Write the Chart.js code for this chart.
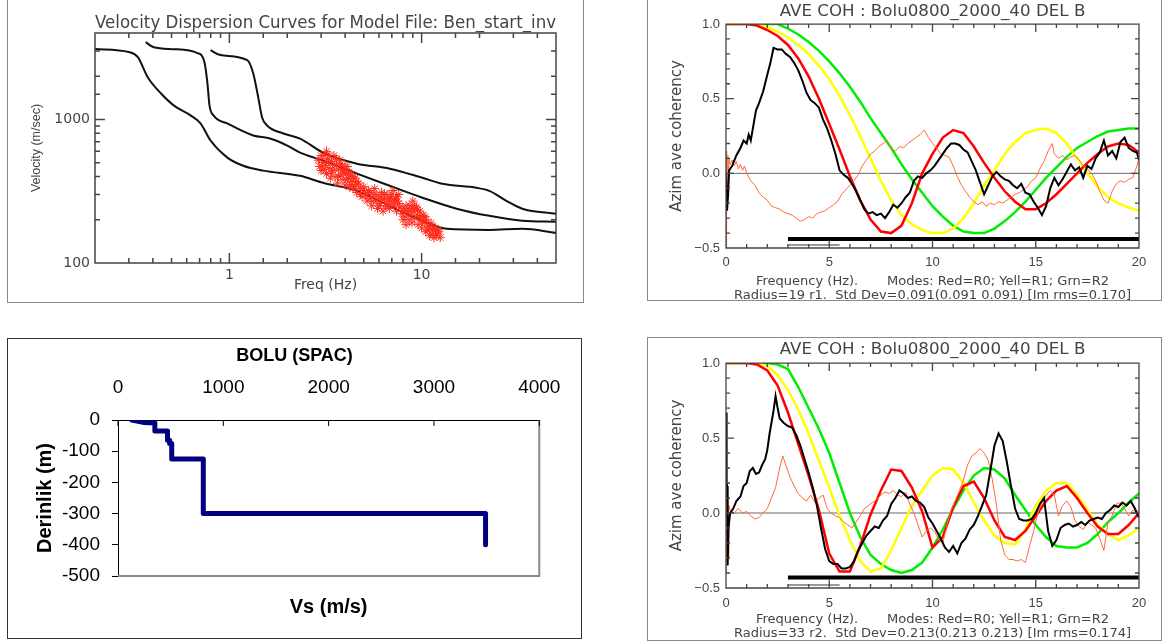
<!DOCTYPE html>
<html>
<head>
<meta charset="utf-8">
<script src="https://cdn.jsdelivr.net/npm/chart.js@4.4.0/dist/chart.umd.min.js"></script>
<style>
  body { margin: 0; background: #fff; }
  .panel { position: absolute; border: 1px solid #8a8a8a; background: #fff; }
  canvas { display: block; }
</style>
</head>
<body>
<div class="panel" style="left:7px; top:-1px; width:575px; height:302px;"><canvas id="dispChart" width="575" height="302"></canvas></div>
<div class="panel" style="left:647px; top:-1px; width:513px; height:300px;"><canvas id="cohR1" width="513" height="300"></canvas></div>
<div class="panel" style="left:7px; top:338px; width:573px; height:299px; border-color:#333;"><canvas id="profileChart" width="573" height="299"></canvas></div>
<div class="panel" style="left:647px; top:337px; width:513px; height:302px;"><canvas id="cohR2" width="513" height="302"></canvas></div>
<script>
// ---- dispersion curves (top left) ----
const mode0Freq = [0.2, 0.3, 0.334, 0.376, 0.44, 0.513, 0.628, 0.708, 0.798, 0.976, 1.18, 1.5, 2.33, 3.07, 4.61, 7.68, 10.1, 13.5, 22.5, 33.4, 50];
const mode0Vel  = [3090, 2945, 2716, 1968, 1521, 1253, 1067, 938, 713, 542, 476, 440, 405, 362, 318, 231, 197, 173, 170, 173, 162];
const mode1Freq = [0.367, 0.404, 0.513, 0.683, 0.742, 0.769, 0.788, 0.827, 0.976, 1.33, 1.63, 2.0, 2.33, 3.07, 4.61, 6.83, 10.1, 15.2, 22.5, 33.4, 50];
const mode1Vel  = [3451, 3184, 3087, 2897, 2505, 1786, 1253, 1067, 938, 773, 736, 658, 587, 517, 419, 345, 285, 239, 213, 197, 194];
const mode2Freq = [0.798, 0.898, 1.24, 1.33, 1.40, 1.48, 1.57, 1.91, 2.33, 3.07, 4.61, 6.83, 10.1, 12.8, 19.3, 22.5, 27.6, 33.4, 50];
const mode2Vel  = [3040, 2806, 2588, 2099, 1521, 1033, 908, 798, 736, 587, 492, 454, 392, 356, 334, 318, 271, 239, 220];

// picked phase velocities (red stars)
const obsFreq = [2.9, 2.95, 3.0, 3.05, 3.1, 3.15, 3.2, 3.2, 3.25, 3.3, 3.35, 3.4, 3.45, 3.5, 3.55, 3.6, 3.65, 3.7, 3.75, 3.8,
  3.85, 3.9, 3.95, 4.0, 4.05, 4.1, 4.15, 4.2, 4.3, 4.35, 4.4, 4.5, 4.55, 4.6,
  4.7, 4.8, 4.9, 5.0, 5.1, 5.2, 5.3, 5.4, 5.5, 5.6, 5.7, 5.8, 5.9, 6.0, 6.1, 6.2, 6.3, 6.4, 6.5, 6.6, 6.7, 6.8, 6.9, 7.0, 7.1, 7.2, 7.3, 7.4, 7.5, 7.6, 7.7,
  7.9, 8.0, 8.1, 8.2, 8.3, 8.4, 8.6, 8.7, 8.8, 8.9, 9.0, 9.1, 9.2, 9.4, 9.5, 9.6, 9.8, 9.9, 10.0, 10.2, 10.3, 10.5, 10.6, 10.8, 11.0, 11.2, 11.4, 11.6, 11.8, 12.0, 12.3, 12.5,
  3.0, 3.1, 3.2, 3.3, 3.4, 3.5, 3.6, 3.7, 3.8, 3.9, 4.0, 4.1, 4.2, 4.3, 4.4, 4.5, 4.6,
  4.8, 5.0, 5.2, 5.4, 5.6, 5.8, 6.0, 6.2, 6.4, 6.6, 6.8, 7.0, 7.2, 7.4, 7.6,
  8.0, 8.3, 8.6, 8.9, 9.2, 9.5, 9.8, 10.1, 10.4, 10.7, 11.0, 11.3, 11.6, 11.9, 12.2];
const obsVel = [520, 470, 440, 500, 560, 480, 600, 420, 530, 460, 390, 510, 440, 560, 400, 480, 360, 450, 520, 410,
  470, 380, 440, 350, 420, 470, 390, 340, 410, 370, 330, 390, 350, 310,
  360, 330, 290, 340, 300, 270, 320, 280, 250, 300, 330, 270, 240, 290, 260, 310, 230, 280, 250, 300, 270, 240, 290, 260, 320, 250, 280, 230, 270, 300, 245,
  220, 200, 240, 210, 185, 230, 200, 250, 215, 190, 270, 230, 205, 245, 215, 185, 230, 200, 175, 215, 190, 165, 200, 180, 155, 190, 170, 150, 175, 160, 165, 150,
  560, 450, 500, 560, 430, 480, 530, 400, 490, 430, 470, 380, 430, 350, 400, 340, 370,
  300, 320, 300, 310, 270, 300, 250, 280, 300, 250, 280, 300, 270, 290, 260,
  230, 250, 230, 240, 250, 235, 210, 195, 210, 170, 180, 160, 175, 155, 170];

// ---- Vs profile (bottom left) ----
const vsProfile    = [130, 250, 250, 350, 350, 470, 470, 490, 490, 510, 510, 810, 810, 3490, 3490];
const depthProfile = [0, -8, -8, -10, -35, -35, -65, -65, -75, -75, -125, -125, -300, -300, -400];

// ---- coherency curves (right) ----
const modelFreq = [0, 0.5, 1, 1.5, 2, 2.5, 3, 3.5, 4, 4.5, 5, 5.5, 6, 6.5, 7, 7.5, 8, 8.5, 9, 9.5, 10,
  10.5, 11, 11.5, 12, 12.5, 13, 13.5, 14, 14.5, 15, 15.5, 16, 16.5, 17, 17.5, 18, 18.5, 19, 19.5, 20];
const r1Red    = [1, 1, 1, 0.99, 0.96, 0.92, 0.86, 0.77, 0.65, 0.5, 0.33, 0.16, -0.02, -0.18, -0.31, -0.39, -0.4, -0.35, -0.2, 0.0, 0.13,
  0.24, 0.29, 0.27, 0.18, 0.07, -0.03, -0.12, -0.19, -0.24, -0.24, -0.2, -0.14, -0.07, 0.0, 0.07, 0.13, 0.18, 0.2, 0.19, 0.14];
const r1Yellow = [1, 1, 1, 1, 0.98, 0.95, 0.91, 0.86, 0.8, 0.72, 0.63, 0.52, 0.39, 0.25, 0.1, -0.05, -0.18, -0.28, -0.34, -0.38, -0.4,
  -0.4, -0.37, -0.3, -0.2, -0.08, 0.02, 0.13, 0.21, 0.27, 0.29, 0.3, 0.27, 0.2, 0.1, 0.0, -0.09, -0.16, -0.2, -0.23, -0.25];
const r1Green  = [1, 1, 1, 1, 1, 1, 0.97, 0.93, 0.88, 0.82, 0.75, 0.67, 0.58, 0.48, 0.37, 0.27, 0.17, 0.06, -0.04, -0.13, -0.22,
  -0.29, -0.35, -0.39, -0.4, -0.4, -0.37, -0.32, -0.26, -0.19, -0.11, -0.03, 0.04, 0.11, 0.17, 0.21, 0.25, 0.28, 0.29, 0.3, 0.3];
const r2Red    = [1, 1, 1, 0.99, 0.95, 0.85, 0.67, 0.46, 0.25, 0.02, -0.27, -0.39, -0.39, -0.22, -0.01, 0.15, 0.29, 0.28, 0.17, 0.01, -0.23,
  -0.16, 0.04, 0.18, 0.21, 0.1, -0.05, -0.16, -0.18, -0.12, -0.02, 0.08, 0.15, 0.18, 0.1, 0.0, -0.09, -0.14, -0.14, -0.08, 0.0];
const r2Yellow = [1, 1, 1, 1, 0.98, 0.92, 0.82, 0.69, 0.53, 0.35, 0.17, -0.02, -0.18, -0.32, -0.39, -0.37, -0.25, -0.1, 0.05, 0.15, 0.25,
  0.3, 0.29, 0.2, 0.07, -0.05, -0.15, -0.2, -0.21, -0.11, 0.05, 0.15, 0.2, 0.2, 0.12, 0.02, -0.08, -0.14, -0.18, -0.15, -0.1];
const r2Green  = [1, 1, 1, 1, 1, 0.99, 0.96, 0.84, 0.7, 0.56, 0.4, 0.2, 0.0, -0.16, -0.28, -0.34, -0.38, -0.4, -0.38, -0.33, -0.23,
  -0.11, 0.03, 0.15, 0.25, 0.3, 0.29, 0.23, 0.12, 0.02, -0.08, -0.16, -0.22, -0.23, -0.23, -0.2, -0.14, -0.06, 0.0, 0.07, 0.13];

const r1ObsFreq = [0, 0.05, 0.1, 0.15, 0.3, 0.5, 0.7, 0.85, 1.0, 1.1, 1.2, 1.3, 1.45, 1.6, 1.8, 2.0, 2.15, 2.3, 2.5, 2.7, 2.9,
  3.1, 3.3, 3.5, 3.7, 3.9, 4.1, 4.3, 4.5, 4.7, 4.9, 5.1, 5.3, 5.5, 5.7, 5.9, 6.1, 6.3, 6.5, 6.7, 6.9,
  7.1, 7.3, 7.5, 7.7, 7.9, 8.1, 8.3, 8.5, 8.7, 8.9, 9.1, 9.3, 9.5, 9.7, 9.9, 10.1, 10.3, 10.5, 10.7, 10.9,
  11.1, 11.3, 11.5, 11.7, 11.9, 12.1, 12.3, 12.5, 12.7, 12.9, 13.1, 13.3, 13.5, 13.7, 13.9, 14.1, 14.3, 14.5, 14.7, 14.9,
  15.1, 15.3, 15.5, 15.7, 15.9, 16.1, 16.3, 16.5, 16.7, 16.9, 17.1, 17.3, 17.5, 17.7, 17.9, 18.1, 18.3, 18.5, 18.7, 18.9,
  19.1, 19.3, 19.5, 19.7, 19.9, 20];
const r1ObsCoh = [0.0, -0.25, -0.15, 0.02, 0.05, 0.12, 0.17, 0.22, 0.2, 0.26, 0.22, 0.3, 0.42, 0.47, 0.55, 0.66, 0.74, 0.84, 0.83, 0.83, 0.8,
  0.78, 0.74, 0.69, 0.62, 0.54, 0.49, 0.47, 0.44, 0.36, 0.3, 0.22, 0.13, 0.02, -0.01, -0.03, -0.07, -0.12, -0.18, -0.24, -0.27,
  -0.26, -0.28, -0.27, -0.3, -0.26, -0.21, -0.23, -0.2, -0.16, -0.13, -0.05, -0.02, -0.03, 0.0, 0.02, 0.05, 0.09, 0.13, 0.17, 0.2,
  0.2, 0.19, 0.16, 0.14, 0.08, 0.02, -0.06, -0.14, -0.08, -0.02, 0.01, -0.02, -0.04, -0.05, -0.08, -0.1, -0.07, -0.13, -0.14, -0.19,
  -0.23, -0.28, -0.22, -0.1, -0.03, -0.08, -0.04, 0.01, 0.06, 0.02, 0.04, -0.03, 0.05, 0.03, 0.1, 0.14, 0.22, 0.12, 0.15, 0.1,
  0.21, 0.24, 0.17, 0.15, 0.14, 0.09];
const r1ImFreq = [0, 0.03, 0.06, 0.09, 0.12, 0.15, 0.2, 0.3, 0.4, 0.5, 0.6, 0.7, 0.8, 0.9, 1.0,
  1.2, 1.4, 1.6, 1.8, 2.0, 2.2, 2.4, 2.6, 2.8, 3.0, 3.2, 3.4, 3.6, 3.8, 4.0, 4.2, 4.4, 4.6, 4.8, 5.0,
  5.2, 5.4, 5.6, 5.8, 6.0, 6.2, 6.4, 6.6, 6.8, 7.0, 7.2, 7.4, 7.6, 7.8, 8.0, 8.2, 8.4, 8.6, 8.8, 9.0,
  9.2, 9.4, 9.6, 9.8, 10.0, 10.2, 10.4, 10.6, 10.8, 11.0, 11.2, 11.4, 11.6, 11.8, 12.0, 12.2, 12.4, 12.6, 12.8, 13.0,
  13.2, 13.4, 13.6, 13.8, 14.0, 14.2, 14.4, 14.6, 14.8, 15.0, 15.2, 15.4, 15.6, 15.8, 15.9,
  16.1, 16.3, 16.5, 16.7, 16.9, 17.1, 17.3, 17.5, 17.7, 17.9, 18.1, 18.3, 18.5, 18.7, 18.9, 19.1, 19.3, 19.5, 19.7, 19.9, 20];
const r1ImCoh = [-0.5, 0.15, -0.1, 0.12, -0.05, 0.1, 0.06, 0.09, 0.05, 0.08, 0.03, 0.06, 0.02, 0.05, 0.0,
  -0.05, -0.08, -0.13, -0.16, -0.18, -0.22, -0.23, -0.24, -0.26, -0.27, -0.28, -0.3, -0.32, -0.31, -0.29, -0.3, -0.27, -0.26, -0.25, -0.23,
  -0.21, -0.19, -0.14, -0.11, -0.08, -0.05, -0.01, 0.05, 0.09, 0.13, 0.15, 0.18, 0.2, 0.22, 0.16, 0.15, 0.18, 0.17, 0.2, 0.22,
  0.24, 0.26, 0.29, 0.24, 0.2, 0.17, 0.13, 0.12, 0.11, 0.05, -0.02, -0.08, -0.12, -0.16, -0.19, -0.21, -0.19, -0.22, -0.2, -0.21,
  -0.19, -0.2, -0.18, -0.16, -0.14, -0.13, -0.11, -0.09, -0.05, -0.03, 0.03, 0.08, 0.15, 0.2, 0.13,
  0.1, 0.12, 0.09, 0.11, 0.12, 0.09, 0.05, 0.03, 0.0, -0.05, -0.12, -0.18, -0.2, -0.12, -0.07, -0.05, -0.06, -0.04, -0.03, 0.05, 0.1];

const r2ObsFreq = [0, 0.03, 0.06, 0.08, 0.12, 0.2, 0.35, 0.5, 0.7, 0.85, 1.0, 1.15, 1.3, 1.45, 1.6, 1.75, 1.9, 2.0, 2.1, 2.2, 2.3, 2.4, 2.5, 2.6,
  2.8, 3.0, 3.2, 3.4, 3.6, 3.8, 4.0, 4.2, 4.4, 4.6, 4.8, 5.0, 5.2, 5.4, 5.6, 5.8, 6.0, 6.2, 6.4, 6.6,
  6.8, 7.0, 7.2, 7.4, 7.6, 7.8, 8.0, 8.2, 8.4, 8.6, 8.8, 9.0, 9.2, 9.4, 9.6, 9.8, 10.0, 10.2, 10.4, 10.6,
  10.8, 11.0, 11.2, 11.4, 11.6, 11.8, 12.0, 12.2, 12.4, 12.6, 12.8, 13.0, 13.2, 13.4, 13.6, 13.8, 14.0, 14.2, 14.4, 14.6,
  14.8, 15.0, 15.2, 15.4, 15.6, 15.8, 16.0, 16.2, 16.4, 16.6, 16.8, 17.0, 17.2, 17.4, 17.6, 17.8, 18.0, 18.2, 18.4, 18.6,
  18.8, 19.0, 19.2, 19.4, 19.6, 19.8, 20.0];
const r2ObsCoh = [0.67, 0.2, 0.18, -0.35, -0.1, 0.0, 0.03, 0.08, 0.11, 0.18, 0.2, 0.28, 0.3, 0.26, 0.27, 0.32, 0.36, 0.42, 0.52, 0.6, 0.68, 0.78, 0.7, 0.63,
  0.6, 0.58, 0.57, 0.52, 0.45, 0.36, 0.27, 0.17, 0.05, -0.1, -0.24, -0.32, -0.34, -0.34, -0.37, -0.37, -0.36, -0.32, -0.25, -0.2,
  -0.15, -0.12, -0.09, -0.1, -0.05, -0.02, 0.06, 0.1, 0.15, 0.13, 0.1, 0.11, 0.08, 0.07, 0.04, -0.03, -0.07, -0.12, -0.17, -0.23,
  -0.26, -0.22, -0.27, -0.2, -0.17, -0.11, -0.08, -0.02, 0.05, 0.12, 0.28, 0.45, 0.53, 0.48, 0.34, 0.18, 0.03, -0.04, -0.05, -0.05,
  -0.04, 0.0, 0.06, 0.1, -0.12, -0.22, -0.18, -0.1, -0.08, -0.07, -0.09, -0.08, -0.06, -0.08, -0.05, -0.04, -0.03, -0.04, 0.0, 0.02,
  0.05, 0.04, 0.07, 0.05, 0.08, 0.03, -0.03];
const r2ImFreq = [0, 0.02, 0.05, 0.08, 0.11, 0.14, 0.2, 0.4, 0.6, 0.8, 1.0, 1.2, 1.4, 1.6, 1.8, 2.0, 2.2, 2.4, 2.6, 2.75,
  2.9, 3.1, 3.3, 3.5, 3.7, 3.9, 4.1, 4.3, 4.5, 4.7, 4.9, 5.1, 5.3, 5.5, 5.7, 5.9, 6.1, 6.3, 6.5, 6.7,
  6.9, 7.1, 7.3, 7.5, 7.7, 7.9, 8.1, 8.3, 8.5, 8.7, 8.9, 9.1, 9.3, 9.5, 9.7, 9.9, 10.1, 10.3, 10.5, 10.7,
  10.9, 11.1, 11.3, 11.5, 11.7, 11.9, 12.1, 12.3, 12.5, 12.7, 12.9, 13.1, 13.3, 13.5, 13.7, 13.9, 14.1, 14.3, 14.5, 14.7,
  14.9, 15.1, 15.3, 15.5, 15.7, 15.9, 16.1, 16.3, 16.5, 16.7, 16.9, 17.1, 17.3, 17.5, 17.7, 17.9, 18.1, 18.3, 18.5, 18.7,
  18.9, 19.1, 19.3, 19.5, 19.7, 19.9, 20];
const r2ImCoh = [-0.4, 0.45, -0.2, 0.15, -0.3, 0.05, 0.02, 0.0, 0.03, 0.0, 0.01, -0.02, -0.04, -0.03, 0.0, 0.03, 0.1, 0.17, 0.3, 0.38,
  0.32, 0.24, 0.18, 0.13, 0.1, 0.08, 0.12, 0.07, 0.1, 0.12, 0.03, 0.0, -0.02, -0.03, -0.06, -0.08, -0.1, -0.06, -0.02, 0.03,
  0.05, 0.07, 0.09, 0.12, 0.14, 0.13, 0.15, 0.12, 0.11, 0.14, 0.06, 0.0, -0.08, -0.16, -0.12, -0.1, -0.12, -0.18, -0.2, -0.08,
  0.02, 0.08, 0.15, 0.22, 0.32, 0.38, 0.4, 0.43, 0.4, 0.35, 0.22, 0.05, -0.18, -0.28, -0.31, -0.31, -0.32, -0.31, -0.33, -0.22,
  -0.12, 0.0, 0.07, 0.12, 0.15, 0.12, -0.02, 0.05, 0.08, 0.04, -0.05, -0.09, -0.11, -0.06, -0.08, -0.1, -0.17, -0.25, -0.06, -0.02,
  0.06, 0.07, 0.03, -0.02, 0.02, 0.0, 0.02];

const bandFreq = [3, 20];
const bandShortFreq = [3, 5.5];
const r1BandLevel = [-0.44, -0.44];
const r2BandLevel = [-0.43, -0.43];
const shortLevel = [-0.48, -0.48];
const zeroFreq = [0, 20];
const zeroCoh = [0, 0];

Chart.defaults.font.family = 'DejaVu Sans';
Chart.defaults.color = '#444';

const toXY = (xs, ys) => xs.map((x, i) => ({ x: x, y: ys[i] }));

// frame + inward ticks, like the IDL plots
const idlFrame = {
  id: 'idlFrame',
  afterDatasetsDraw(chart, args, opts) {
    const { ctx, chartArea: a } = chart;
    const xs = chart.scales.x, ys = chart.scales.y;
    ctx.save();
    ctx.strokeStyle = opts.color;
    ctx.lineWidth = opts.width;
    ctx.beginPath();
    xs.ticks.forEach(t => {
      const p = xs.getPixelForValue(t.value);
      const len = t.label ? opts.major : opts.minor;
      ctx.moveTo(p, a.bottom); ctx.lineTo(p, a.bottom - len);
      ctx.moveTo(p, a.top); ctx.lineTo(p, a.top + len);
    });
    ys.ticks.forEach(t => {
      const p = ys.getPixelForValue(t.value);
      const len = t.label ? opts.major : opts.minor;
      ctx.moveTo(a.left, p); ctx.lineTo(a.left + len, p);
      ctx.moveTo(a.right, p); ctx.lineTo(a.right - len, p);
    });
    ctx.rect(a.left, a.top, a.right - a.left, a.bottom - a.top);
    ctx.stroke();
    ctx.restore();
  }
};

// excel plot area: gray right/bottom border, ticks inside under the top axis
const excelFrame = {
  id: 'excelFrame',
  beforeDatasetsDraw(chart) {
    const { ctx, chartArea: a } = chart;
    const xs = chart.scales.x;
    ctx.save();
    ctx.strokeStyle = '#8a8a8a';
    ctx.lineWidth = 2;
    ctx.beginPath();
    ctx.moveTo(a.left, a.bottom); ctx.lineTo(a.right, a.bottom); ctx.lineTo(a.right, a.top);
    ctx.stroke();
    ctx.strokeStyle = '#000';
    ctx.lineWidth = 1;
    ctx.beginPath();
    xs.ticks.forEach(t => {
      const p = xs.getPixelForValue(t.value);
      ctx.moveTo(p, a.top); ctx.lineTo(p, a.top + 6);
    });
    ctx.stroke();
    ctx.restore();
  }
};

function decadeLabel(v) {
  const e = Math.log10(v);
  return Math.abs(e - Math.round(e)) < 1e-6 ? String(Math.round(v)) : '';
}

function curve(xs, ys, color, width) {
  return { data: toXY(xs, ys), showLine: true, pointRadius: 0, borderColor: color, borderWidth: width };
}

// Velocity dispersion
new Chart(document.getElementById('dispChart'), {
  type: 'scatter',
  data: {
    datasets: [
      { data: toXY(obsFreq, obsVel), pointStyle: 'star', pointRadius: 4.5, borderColor: '#ff2a1a', borderWidth: 1 },
      Object.assign(curve(mode0Freq, mode0Vel, '#111', 2), { cubicInterpolationMode: 'monotone' }),
      Object.assign(curve(mode1Freq, mode1Vel, '#111', 2), { cubicInterpolationMode: 'monotone' }),
      Object.assign(curve(mode2Freq, mode2Vel, '#111', 2), { cubicInterpolationMode: 'monotone' })
    ]
  },
  options: {
    responsive: false, animation: false, devicePixelRatio: 1,
    layout: { padding: { left: 0, top: 0, right: 27, bottom: 0 } },
    plugins: {
      legend: { display: false }, tooltip: { enabled: false },
      title: { display: true, fullSize: false, text: 'Velocity Dispersion Curves for Model File: Ben_start_inv',
        color: '#444', font: { size: 18, weight: 'normal', lineHeight: 1.2 }, padding: { top: 12.2, bottom: -0.8 } },
      idlFrame: { major: 10, minor: 5, color: '#444', width: 1.5 }
    },
    scales: {
      x: {
        type: 'logarithmic', min: 0.2, max: 50,
        grid: { display: false, drawTicks: false }, border: { display: false },
        ticks: { autoSkip: false, maxRotation: 0, padding: 3.6, font: { size: 14 }, callback: decadeLabel },
        title: { display: true, text: 'Freq (Hz)', font: { size: 14, lineHeight: 1.2 }, padding: { top: 0, bottom: 8.6 } },
        afterFit: s => { s.height = 39; }
      },
      y: {
        type: 'logarithmic', min: 100, max: 4000,
        grid: { display: false, drawTicks: false }, border: { display: false },
        ticks: { autoSkip: false, padding: 5, font: { size: 14 }, callback: decadeLabel },
        title: { display: true, text: 'Velocity (m/sec)', font: { family: 'Liberation Sans', size: 12.5, lineHeight: 1.2 }, padding: { top: 21.5 } },
        afterFit: s => { s.width = 87; }
      }
    }
  },
  plugins: [idlFrame]
});

// Coherency panels
function halfLabel(v) {
  const h = Math.round(v * 10);
  if (h % 5 !== 0) return '';
  return (h < 0 ? '\u2212' : '') + Math.abs(v).toFixed(1);
}

function makeCoherency(id, s, geo) {
  return new Chart(document.getElementById(id), {
    type: 'scatter',
    data: {
      datasets: [
        curve(s.obsF, s.obsV, '#000', 2),
        curve(s.imF, s.imV, '#ff6a3a', 1),
        curve(modelFreq, s.red, '#ff0000', 2.5),
        curve(modelFreq, s.yellow, '#ffff00', 2.5),
        curve(modelFreq, s.green, '#00ee00', 2.5),
        curve(bandFreq, s.band, '#000', 4),
        curve(bandShortFreq, shortLevel, '#777', 1.5),
        curve(zeroFreq, zeroCoh, '#666', 1)
      ]
    },
    options: {
      responsive: false, animation: false, devicePixelRatio: 1,
      layout: { padding: { left: 0, top: 0, right: 22, bottom: 0 } },
      plugins: {
        legend: { display: false }, tooltip: { enabled: false },
        title: { display: true, fullSize: false, text: 'AVE COH : Bolu0800_2000_40 DEL B',
          color: '#444', font: { size: 16.7, weight: 'normal', lineHeight: 1.2 }, padding: geo.titlePad },
        idlFrame: { major: 8, minor: 4, color: '#444', width: 1.3 }
      },
      scales: {
        x: {
          type: 'linear', min: 0, max: 20,
          grid: { display: false, drawTicks: false }, border: { display: false },
          ticks: { stepSize: 1, autoSkip: false, maxRotation: 0, padding: geo.tickPad,
            font: { family: 'Liberation Sans', size: 13 }, callback: v => (v % 5 === 0 ? String(v) : '') },
          title: { display: true, text: s.footer, font: { size: 13, lineHeight: '14px' }, padding: { top: 0, bottom: geo.footPad } },
          afterFit: sc => { sc.height = geo.xHeight; }
        },
        y: {
          type: 'linear', min: -0.5, max: 1.0,
          grid: { display: false, drawTicks: false }, border: { display: false },
          ticks: { stepSize: 0.1, autoSkip: false, padding: 6, font: { family: 'Liberation Sans', size: 13 }, callback: halfLabel },
          title: { display: true, text: 'Azim ave coherency', font: { size: 15, lineHeight: 1.2 }, padding: { top: 20 } },
          afterFit: sc => { sc.width = 78; }
        }
      }
    },
    plugins: [idlFrame]
  });
}

makeCoherency('cohR1', {
  obsF: r1ObsFreq, obsV: r1ObsCoh, imF: r1ImFreq, imV: r1ImCoh,
  red: r1Red, yellow: r1Yellow, green: r1Green, band: r1BandLevel,
  footer: ['Frequency (Hz).       Modes: Red=R0; Yell=R1; Grn=R2', 'Radius=19 r1.  Std Dev=0.091(0.091 0.091) [Im rms=0.170]']
}, { titlePad: { top: 2, bottom: 2 }, tickPad: 6.2, footPad: -3, xHeight: 52 });

makeCoherency('cohR2', {
  obsF: r2ObsFreq, obsV: r2ObsCoh, imF: r2ImFreq, imV: r2ImCoh,
  red: r2Red, yellow: r2Yellow, green: r2Green, band: r2BandLevel,
  footer: ['Frequency (Hz).       Modes: Red=R0; Yell=R1; Grn=R2', 'Radius=33 r2.  Std Dev=0.213(0.213 0.213) [Im rms=0.174]']
}, { titlePad: { top: 2, bottom: 3 }, tickPad: 7.2, footPad: -1, xHeight: 52 });

// Vs profile
new Chart(document.getElementById('profileChart'), {
  type: 'scatter',
  data: {
    datasets: [{
      data: toXY(vsProfile, depthProfile), showLine: true, pointRadius: 0,
      borderColor: '#000080', borderWidth: 5, borderCapStyle: 'round', borderJoinStyle: 'round'
    }]
  },
  options: {
    responsive: false, animation: false, devicePixelRatio: 1,
    layout: { padding: 0 },
    plugins: {
      legend: { display: false }, tooltip: { enabled: false },
      title: { display: true, text: 'BOLU (SPAC)', color: '#000',
        font: { family: 'Liberation Sans', size: 18, weight: 'bold', lineHeight: 1.2 }, padding: { top: 6.2, bottom: 4 } }
    },
    scales: {
      x: {
        type: 'linear', position: 'top', min: 0, max: 4000,
        grid: { display: false, drawTicks: false }, border: { display: true, color: '#000', width: 1 },
        ticks: { stepSize: 1000, padding: 20.6, color: '#000', font: { family: 'Liberation Sans', size: 19 }, callback: v => String(v) },
        afterFit: s => { s.height = 49.2; }
      },
      x2: {
        type: 'linear', position: 'bottom', min: 0, max: 4000,
        grid: { display: false, drawTicks: false }, border: { display: false },
        ticks: { display: false },
        title: { display: true, text: 'Vs (m/s)', color: '#000', font: { family: 'Liberation Sans', size: 20, weight: 'bold', lineHeight: 1.2 }, padding: { top: 0, bottom: 19 } },
        afterFit: s => { s.height = 62; }
      },
      y: {
        type: 'linear', min: -500, max: 0,
        grid: { display: true, drawOnChartArea: false, drawTicks: true, tickLength: 6, color: '#000' },
        border: { display: true, color: '#000', width: 1 },
        ticks: { stepSize: 100, padding: 12, color: '#000', font: { family: 'Liberation Sans', size: 19 }, callback: v => String(v) },
        title: { display: true, text: 'Derinlik (m)', color: '#000', font: { family: 'Liberation Sans', size: 20, weight: 'bold', lineHeight: 1.2 }, padding: { top: 25 } },
        afterFit: s => { s.width = 110; }
      },
      yRight: {
        type: 'linear', position: 'right', display: true,
        grid: { display: false, drawTicks: false }, border: { display: false },
        ticks: { display: false },
        afterFit: s => { s.width = 40; }
      }
    }
  },
  plugins: [excelFrame]
});
</script>
</body>
</html>
